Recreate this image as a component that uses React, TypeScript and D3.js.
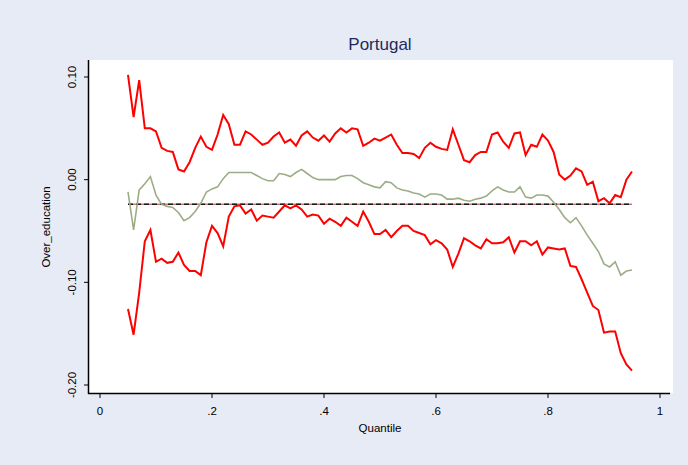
import { useEffect, useRef } from 'react';
import * as d3 from 'd3';

// quantile grid of the estimates (0.05 .. 0.95)
const quantiles = d3.range(0, 91).map(i => +(0.05 + i * 0.01).toFixed(2));

const upper = [
  0.102, 0.061, 0.097, 0.05, 0.05, 0.047, 0.031, 0.028, 0.027, 0.01,
  0.008, 0.017, 0.031, 0.042, 0.032, 0.029, 0.044, 0.063, 0.054, 0.034,
  0.034, 0.047, 0.044, 0.039, 0.034, 0.036, 0.042, 0.046, 0.036, 0.039,
  0.033, 0.043, 0.047, 0.041, 0.038, 0.043, 0.037, 0.045, 0.05, 0.046,
  0.05, 0.049, 0.033, 0.036, 0.04, 0.038, 0.041, 0.044, 0.034, 0.026,
  0.026, 0.025, 0.021, 0.031, 0.036, 0.032, 0.03, 0.029, 0.049, 0.034,
  0.019, 0.017, 0.024, 0.027, 0.027, 0.044, 0.046, 0.037, 0.031, 0.045,
  0.046, 0.024, 0.034, 0.032, 0.044, 0.038, 0.027, 0.005, 0.0, 0.004,
  0.011, 0.008, -0.005, -0.002, -0.021, -0.018, -0.023, -0.015, -0.017, 0.0,
  0.008,
];

const estimate = [
  -0.012, -0.049, -0.01, -0.004, 0.003, -0.015, -0.024, -0.026, -0.027, -0.032,
  -0.04, -0.037, -0.031, -0.023, -0.012, -0.009, -0.007, 0.001, 0.007, 0.007,
  0.007, 0.007, 0.007, 0.004, 0.001, -0.001, -0.001, 0.006, 0.005, 0.003,
  0.007, 0.01, 0.006, 0.002, 0.0, 0.0, 0.0, 0.0, 0.003, 0.004,
  0.004, 0.001, -0.003, -0.005, -0.007, -0.008, -0.002, -0.003, -0.008, -0.01,
  -0.011, -0.013, -0.014, -0.017, -0.014, -0.014, -0.015, -0.019, -0.019, -0.018,
  -0.02, -0.021, -0.019, -0.018, -0.016, -0.011, -0.007, -0.01, -0.012, -0.012,
  -0.007, -0.017, -0.018, -0.015, -0.015, -0.016, -0.022, -0.029, -0.037, -0.042,
  -0.037, -0.045, -0.054, -0.062, -0.07, -0.082, -0.085, -0.08, -0.093, -0.089,
  -0.088,
];

const lower = [
  -0.126, -0.151, -0.11, -0.06, -0.049, -0.08, -0.077, -0.081, -0.08, -0.071,
  -0.083, -0.089, -0.089, -0.093, -0.061, -0.045, -0.052, -0.065, -0.036, -0.026,
  -0.025, -0.033, -0.029, -0.04, -0.035, -0.036, -0.037, -0.031, -0.025, -0.028,
  -0.025, -0.029, -0.036, -0.034, -0.035, -0.043, -0.038, -0.041, -0.045, -0.037,
  -0.041, -0.045, -0.031, -0.041, -0.053, -0.053, -0.049, -0.056, -0.05, -0.045,
  -0.045, -0.05, -0.052, -0.054, -0.063, -0.059, -0.062, -0.068, -0.085, -0.072,
  -0.057, -0.06, -0.064, -0.067, -0.058, -0.062, -0.062, -0.061, -0.056, -0.071,
  -0.06, -0.06, -0.064, -0.06, -0.073, -0.066, -0.067, -0.068, -0.067, -0.084,
  -0.085, -0.097, -0.11, -0.123, -0.127, -0.149, -0.148, -0.148, -0.169, -0.18,
  -0.186,
];

const olsEstimate = -0.024;

const xTicks = [0, 0.2, 0.4, 0.6, 0.8, 1];
const xTickLabels = ['0', '.2', '.4', '.6', '.8', '1'];
const yTicks = [0.1, 0, -0.1, -0.2];
const yTickLabels = ['0.10', '0.00', '-0.10', '-0.20'];

const App = () => {
  const svgRef = useRef<SVGSVGElement>(null!);

  useEffect(() => {
    const width = 688;
    const height = 465;
    const font = 'Liberation Sans, Arial, sans-serif';

    const xScale = d3.scaleLinear().domain([0, 1]).range([100, 660]);
    const yScale = d3.scaleLinear().domain([-0.2, 0.1]).range([385, 77]);

    const svg = d3.select(svgRef.current).attr('width', width).attr('height', height);

    svg.append('rect').attr('width', width).attr('height', height).attr('fill', '#e7ebf5');
    svg
      .append('rect')
      .attr('x', 88)
      .attr('y', 60)
      .attr('width', 585)
      .attr('height', 333)
      .attr('fill', '#ffffff');

    svg
      .append('text')
      .attr('x', 380)
      .attr('y', 50)
      .attr('text-anchor', 'middle')
      .attr('font-family', font)
      .attr('font-size', 17)
      .attr('fill', '#1d2b5c')
      .text('Portugal');

    const line = d3
      .line<number>()
      .x((_, i) => xScale(quantiles[i]))
      .y(d => yScale(d));

    // OLS estimate
    const olsLine = d3
      .line<number>()
      .x(d => xScale(d))
      .y(() => yScale(olsEstimate));
    const ends = [quantiles[0], quantiles[quantiles.length - 1]];
    svg
      .append('path')
      .attr('d', olsLine(ends))
      .attr('fill', 'none')
      .attr('stroke', '#e07070')
      .attr('stroke-width', 1.6);
    svg
      .append('path')
      .attr('d', olsLine(ends))
      .attr('fill', 'none')
      .attr('stroke', '#1a1a1a')
      .attr('stroke-width', 1.6)
      .attr('stroke-dasharray', '5 3');

    svg
      .append('path')
      .attr('d', line(estimate))
      .attr('fill', 'none')
      .attr('stroke', '#9bad85')
      .attr('stroke-width', 1.6);

    [upper, lower].forEach(s => {
      svg
        .append('path')
        .attr('d', line(s))
        .attr('fill', 'none')
        .attr('stroke', '#ff0000')
        .attr('stroke-width', 2);
    });

    // axes
    svg.append('line').attr('x1', 88.5).attr('x2', 88.5).attr('y1', 60).attr('y2', 394).attr('stroke', '#000').attr('stroke-width', 1.5);
    svg.append('line').attr('x1', 88).attr('x2', 670).attr('y1', 393.5).attr('y2', 393.5).attr('stroke', '#000').attr('stroke-width', 1.5);

    yTicks.forEach((t, i) => {
      const y = yScale(t);
      svg.append('line').attr('x1', 84).attr('x2', 88).attr('y1', y).attr('y2', y).attr('stroke', '#000');
      svg
        .append('text')
        .attr('transform', `translate(76,${y}) rotate(-90)`)
        .attr('text-anchor', 'middle')
        .attr('font-family', font)
        .attr('font-size', 11.5)
        .attr('fill', '#000')
        .text(yTickLabels[i]);
    });

    xTicks.forEach((t, i) => {
      const x = xScale(t);
      svg.append('line').attr('x1', x).attr('x2', x).attr('y1', 394).attr('y2', 398).attr('stroke', '#000');
      svg
        .append('text')
        .attr('x', x)
        .attr('y', 415)
        .attr('text-anchor', 'middle')
        .attr('font-family', font)
        .attr('font-size', 11.5)
        .attr('fill', '#000')
        .text(xTickLabels[i]);
    });

    svg
      .append('text')
      .attr('x', 380)
      .attr('y', 432)
      .attr('text-anchor', 'middle')
      .attr('font-family', font)
      .attr('font-size', 11.5)
      .attr('fill', '#000')
      .text('Quantile');

    svg
      .append('text')
      .attr('transform', 'translate(50,227) rotate(-90)')
      .attr('text-anchor', 'middle')
      .attr('font-family', font)
      .attr('font-size', 11.5)
      .attr('fill', '#000')
      .text('Over_education');

    return () => {
      svgRef.current.innerHTML = '';
    };
  }, []);

  return <svg ref={svgRef} style={{ position: 'absolute', left: 0, top: 0 }}></svg>;
};

export default App;
